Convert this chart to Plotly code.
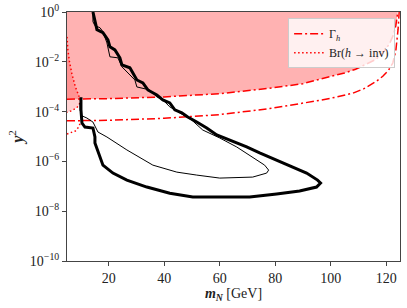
import plotly.graph_objects as go

# ---- data: x = m_N [GeV], values are log10(y^2) ----
gamma_up_x = [5, 20, 40, 60, 78, 90, 96, 105, 109, 113, 116.4, 119, 121.2, 122.5, 123.5, 124.2]
gamma_up_logy = [-3.50, -3.48, -3.41, -3.28, -3.06, -2.88, -2.70, -2.45, -2.30, -2.08, -1.90, -1.62, -1.28, -0.95, -0.55, 0.0]

gamma_lo_x = [5, 20, 40, 60, 78, 90, 96, 102, 108, 112, 114, 116.5, 118.8, 120.8, 122.4, 123.5, 124.3, 124.7]
gamma_lo_logy = [-4.37, -4.35, -4.27, -4.12, -3.88, -3.68, -3.55, -3.42, -3.26, -3.08, -2.95, -2.78, -2.58, -2.35, -2.05, -1.55, -0.7, 0.0]

br_up_x = [5.0, 5.3, 5.9, 6.8, 8.0, 9.3, 9.9, 9.4, 8.5, 6.5, 5.0]
br_up_logy = [-1.0, -1.5, -2.0, -2.5, -3.0, -3.35, -3.55, -3.72, -3.85, -3.97, -4.03]

br_lo_x = [5.0, 6.5, 8.0, 9.0, 9.7, 10.2, 11.0]
br_lo_logy = [-4.90, -4.85, -4.78, -4.65, -4.50, -4.38, -4.36]

thick_x = [14.35, 15.07, 15.79, 17.95, 19.75, 20.47, 22.27, 24.06, 24.78, 27.66, 30.18, 32.34,
           34.14, 37.37, 39.53, 42.05, 43.85, 46.37, 48.52, 51.76, 55.36, 58.96, 63.63, 69.75,
           74.42, 80.54, 85.22, 91.33, 95.29, 96.37, 94.93, 88.81, 80.54, 70.83, 62.55, 50.32,
           42.05, 33.78, 26.58, 21.55, 17.95, 15.07, 15.07, 14.35, 11.47, 10.39, 10.03, 10.03]
thick_logy = [0.0, -0.43, -0.71, -0.83, -1.12, -1.40, -1.52, -1.84, -2.12, -2.24, -2.73, -2.85,
              -3.13, -3.33, -3.53, -3.65, -3.93, -4.05, -4.22, -4.42, -4.66, -4.94, -5.14, -5.42,
              -5.66, -5.95, -6.15, -6.47, -6.75, -6.87, -7.03, -7.19, -7.31, -7.43, -7.43, -7.43,
              -7.28, -7.03, -6.75, -6.47, -6.15, -5.26, -5.02, -4.66, -4.62, -4.46, -3.93, -3.42]

thin_x = [14.35, 14.35, 15.07, 16.87, 17.95, 19.39, 20.47, 23.34, 24.78, 29.46, 30.18, 34.86,
          37.37, 39.53, 42.05, 45.65, 49.96, 53.92, 60.04, 66.15, 71.91, 76.22, 77.66, 76.94,
          71.91, 60.04, 51.76, 44.57, 35.94, 26.58, 19.39, 16.15, 15.79, 14.35, 12.19, 10.39,
          9.68, 9.68]
thin_logy = [0.0, -0.39, -0.55, -0.63, -0.79, -1.24, -1.80, -1.84, -2.20, -2.73, -3.01, -3.13,
             -3.41, -3.53, -3.81, -4.05, -4.34, -4.74, -5.06, -5.42, -5.83, -6.15, -6.35, -6.47,
             -6.63, -6.67, -6.55, -6.43, -6.15, -5.54, -5.02, -4.82, -4.74, -4.42, -4.26, -4.17,
             -3.93, -3.65]

ytick_exp = [0, -2, -4, -6, -8, -10]
xtick_vals = [20, 40, 60, 80, 100, 120]

def ten(v):
    return [10 ** e for e in v]

RED = "rgb(255,0,0)"
FONT = "Liberation Serif"

fig = go.Figure()

fig.add_trace(go.Scatter(
    x=gamma_up_x + [gamma_up_x[0]], y=ten(gamma_up_logy) + [1.0],
    mode="none", fill="toself", fillcolor="rgba(255,0,0,0.30)",
    showlegend=False, hoverinfo="skip"))

fig.add_trace(go.Scatter(
    x=br_up_x, y=ten(br_up_logy), mode="none", fill="toself",
    fillcolor="rgba(255,0,0,0.18)", showlegend=False, hoverinfo="skip"))

dd = "8px,3px,2px,3px"
dot = "1.5px,2.5px"

fig.add_trace(go.Scatter(x=gamma_up_x, y=ten(gamma_up_logy), mode="lines",
                         line=dict(color=RED, width=1.5, dash=dd),
                         name="Γ<sub><i>h</i></sub>", legendgroup="g"))
fig.add_trace(go.Scatter(x=gamma_lo_x, y=ten(gamma_lo_logy), mode="lines",
                         line=dict(color=RED, width=1.5, dash=dd),
                         showlegend=False, legendgroup="g"))
fig.add_trace(go.Scatter(x=br_up_x, y=ten(br_up_logy), mode="lines",
                         line=dict(color=RED, width=1.5, dash=dot),
                         name="Br(<i>h</i> → inv)", legendgroup="b"))
fig.add_trace(go.Scatter(x=br_lo_x, y=ten(br_lo_logy), mode="lines",
                         line=dict(color=RED, width=1.5, dash=dot),
                         showlegend=False, legendgroup="b"))

fig.add_trace(go.Scatter(x=thick_x, y=ten(thick_logy), mode="lines",
                         line=dict(color="black", width=3), showlegend=False))
fig.add_trace(go.Scatter(x=thin_x, y=ten(thin_logy), mode="lines",
                         line=dict(color="black", width=1), showlegend=False))

fig.update_layout(
    width=407, height=308,
    margin=dict(l=67, r=7, t=12, b=47, autoexpand=False),
    paper_bgcolor="white", plot_bgcolor="white",
    font=dict(family=FONT, size=14, color="#222"),
    legend=dict(x=0.664, y=0.975, xanchor="left", yanchor="top",
                bgcolor="rgba(255,255,255,0.8)", bordercolor="#cccccc", borderwidth=1,
                font=dict(family=FONT, size=12), tracegroupgap=0,
                itemwidth=30),
    xaxis=dict(range=[5, 125], tickvals=xtick_vals, ticks="outside", ticklen=4,
               tickcolor="#444", showgrid=False, zeroline=False, automargin=False,
               showline=True, linecolor="#444", linewidth=1, mirror=True,
               tickfont=dict(family=FONT, size=14),
               title=dict(text="<b><i>m<sub>N</sub></i></b> [GeV]", standoff=2,
                          font=dict(family=FONT, size=14))),
    yaxis=dict(type="log", range=[-10, 0], tickvals=ten(ytick_exp),
               ticktext=["10<sup>%s</sup>" % (str(e).replace("-", "−")) for e in ytick_exp],
               ticks="outside", ticklen=4, tickcolor="#444", automargin=False,
               showgrid=False, zeroline=False,
               showline=True, linecolor="#444", linewidth=1, mirror=True,
               tickfont=dict(family=FONT, size=14),
               title=dict(text="<b><i>y</i></b><sup>2</sup>", standoff=2,
                          font=dict(family=FONT, size=16))),
)

fig.write_html("out.html", config={"displayModeBar": False},
               post_script="document.body.style.margin='0';document.body.style.overflow='hidden';")
